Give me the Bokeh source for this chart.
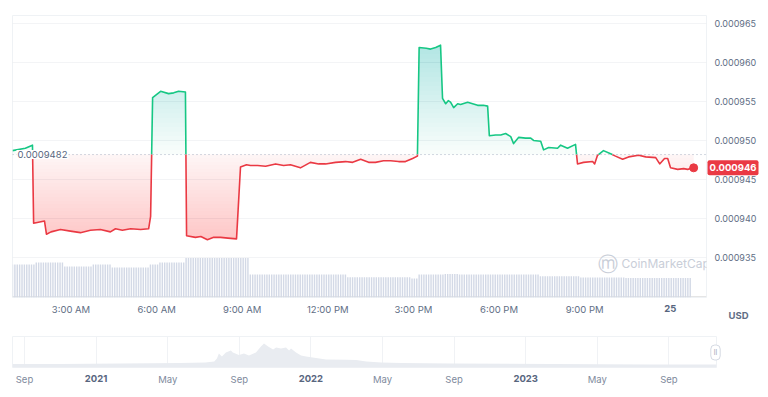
from bokeh.plotting import figure
from bokeh.models import (Range1d, FixedTicker, PrintfTickFormatter, Label, Span, LinearAxis, Grid)
from bokeh.layouts import column, row
from bokeh.embed import file_html
from bokeh.resources import INLINE

# ---------------- data ----------------
# hours since midnight of the 24th
hours = [0.95, 1.40, 1.65, 1.69, 2.07, 2.14, 2.30, 2.63, 2.98, 3.33, 3.68, 4.03, 4.38, 4.56, 4.80,
         5.09, 5.44, 5.72, 5.79, 5.86, 6.14, 6.42, 6.60, 6.77, 7.01, 7.05, 7.36, 7.55, 7.78, 8.00,
         8.24, 8.50, 8.80, 8.94, 9.15, 9.29, 9.54, 9.82, 10.17, 10.45, 10.69, 11.04, 11.39, 11.68,
         11.92, 12.27, 12.62, 12.87, 13.15, 13.43, 13.67, 13.95, 14.20, 14.48, 14.72, 14.97, 15.14,
         15.20, 15.45, 15.60, 15.78, 15.95, 16.02, 16.13, 16.22, 16.30, 16.41, 16.55, 16.65, 16.90,
         17.25, 17.45, 17.60, 17.66, 17.88, 18.06, 18.23, 18.41, 18.51, 18.69, 18.93, 19.11, 19.21,
         19.46, 19.56, 19.74, 20.05, 20.16, 20.40, 20.68, 20.75, 20.96, 21.28, 21.35, 21.45, 21.66,
         21.91, 22.08, 22.33, 22.54, 22.89, 23.14, 23.49, 23.63, 23.80, 23.91, 24.01, 24.26, 24.47,
         24.61, 24.82]
prices = [0.0009487, 0.0009490, 0.0009494, 0.0009394, 0.0009397, 0.0009380, 0.0009383, 0.0009386,
          0.0009384, 0.0009382, 0.0009385, 0.0009386, 0.0009383, 0.0009387, 0.0009385, 0.0009387,
          0.0009386, 0.0009387, 0.0009403, 0.0009555, 0.0009563, 0.0009560, 0.0009561, 0.0009563,
          0.0009562, 0.0009378, 0.0009376, 0.0009377, 0.0009373, 0.0009376, 0.0009376, 0.0009375,
          0.0009374, 0.0009466, 0.0009469, 0.0009468, 0.0009468, 0.0009467, 0.0009470, 0.0009468,
          0.0009469, 0.0009465, 0.0009472, 0.0009470, 0.0009470, 0.0009472, 0.0009473, 0.0009472,
          0.0009476, 0.0009472, 0.0009472, 0.0009474, 0.0009474, 0.0009473, 0.0009473, 0.0009477,
          0.0009480, 0.0009619, 0.0009618, 0.0009617, 0.0009619, 0.0009622, 0.0009554, 0.0009547,
          0.0009551, 0.0009549, 0.0009542, 0.0009547, 0.0009546, 0.0009549, 0.0009545, 0.0009545,
          0.0009544, 0.0009506, 0.0009507, 0.0009507, 0.0009509, 0.0009505, 0.0009496, 0.0009504,
          0.0009503, 0.0009503, 0.0009500, 0.0009499, 0.0009488, 0.0009491, 0.0009490, 0.0009494,
          0.0009490, 0.0009495, 0.0009470, 0.0009472, 0.0009473, 0.0009470, 0.0009481, 0.0009487,
          0.0009483, 0.0009480, 0.0009476, 0.0009479, 0.0009481, 0.0009479, 0.0009478, 0.0009470,
          0.0009477, 0.0009477, 0.0009465, 0.0009463, 0.0009464, 0.0009463, 0.0009465]
base_price = 0.0009482
base_label = "0.0009482"
last_label = "0.000946"
currency = "USD"

# volume: 5-minute bars, constant levels
vol_levels = [33, 35, 31, 33, 30, 33, 35, 39.5, 23, 20.3, 19, 23, 23.5, 23, 21.3, 20, 19.5]
vol_counts = [10, 12, 12, 8, 16, 4, 11, 27, 41, 27, 3, 11, 6, 34, 17, 19, 28]

time_ticks = [3, 6, 9, 12, 15, 18, 21, 24]
time_labels = ["3:00 AM", "6:00 AM", "9:00 AM", "12:00 PM", "3:00 PM", "6:00 PM", "9:00 PM", "25"]
price_ticks = [0.000935, 0.000940, 0.000945, 0.000950, 0.000955, 0.000960, 0.000965]

# navigator: months since Sep 2020
nav_months = [-0.67, 2.0, 5.4, 8.7, 10.1, 10.6, 10.75, 10.86, 11.03, 11.25, 11.53, 11.64, 11.98,
              12.26, 12.54, 12.93, 13.21, 13.38, 13.61, 13.89, 14.06, 14.33, 14.61, 14.78, 14.89,
              15.17, 15.45, 15.73, 16.29, 16.85, 17.97, 18.53, 19.09, 19.93, 21.05, 23.85, 29.45,
              35.05, 38.66]
nav_values = [3.5, 3.5, 4, 4.5, 5, 6, 9, 14, 11, 15, 17, 15, 12.5, 14, 12, 15, 21, 24, 21, 18, 20,
              19, 20, 17, 19, 15, 12, 11, 9.5, 8, 7.7, 7.5, 6, 5, 4.5, 4, 3.5, 3, 3]
nav_ticks = [0, 4, 8, 12, 16, 20, 24, 28, 32, 36]
nav_labels = ["Sep", "2021", "May", "Sep", "2022", "May", "Sep", "2023", "May", "Sep"]

# ---------------- style ----------------
GREEN = "#16c784"
RED = "#ea3943"
FONT = "Inter"
GRAY = "#616e85"
DARK = "#58667e"
FS = "9.5px"


def plain_axis(ax, fs=FS, color=GRAY, bold=False, standoff=6):
    ax.axis_line_color = None
    ax.major_tick_line_color = None
    ax.minor_tick_line_color = None
    ax.major_label_standoff = standoff
    ax.major_label_text_font = FONT
    ax.major_label_text_font_size = fs
    ax.major_label_text_color = color
    if bold:
        ax.major_label_text_font_style = "bold"


Y_LO, Y_HI = 0.0009299, 0.0009660
p = figure(width=760, height=333, x_range=Range1d(0.95, 25.27), y_range=Range1d(Y_LO, Y_HI),
           output_backend="svg", toolbar_location=None, y_axis_location=None,
           min_border_left=12, min_border_right=54, min_border_top=15, min_border_bottom=36)
p.background_fill_color = "white"
p.border_fill_color = "white"
p.outline_line_color = "#eff2f5"
p.extra_y_ranges = {"vol": Range1d(0, 282)}
p.add_layout(Grid(dimension=1, ticker=FixedTicker(ticks=price_ticks), grid_line_color="#f3f4f6"))

# volume bars
vol = []
for lvl, cnt in zip(vol_levels, vol_counts):
    vol += [lvl] * cnt
bar_x = [hours[0] + i / 12 for i in range(len(vol))]
p.vbar(x=bar_x, top=vol, bottom=0, width=0.05, y_range_name="vol",
       fill_color="#d3d9e6", line_color=None)

# gradient fills built from stacked translucent areas
N = 24
g_depth = max(prices) - base_price
r_depth = base_price - min(prices)
for k in range(N):
    lvl = base_price + g_depth * k / N
    p.varea(x=hours, y1=[lvl] * len(hours), y2=[max(v, lvl) for v in prices],
            fill_color=GREEN, fill_alpha=0.03 if k == 0 else 0.0115)
    lvl = base_price - r_depth * k / N
    p.varea(x=hours, y1=[lvl] * len(hours), y2=[min(v, lvl) for v in prices],
            fill_color=RED, fill_alpha=0.05 if k == 0 else 0.0105)

p.add_layout(Span(location=base_price, dimension="width", line_color="#a7b1c2",
                  line_dash="1 3", line_width=1))

# price line split into green (above base) and red (below base)
xs_g, ys_g, xs_r, ys_r = [], [], [], []
cur_x, cur_y = [hours[0]], [prices[0]]
cur_up = prices[0] >= base_price


def flush(cx, cy, up):
    if up:
        xs_g.append(cx); ys_g.append(cy)
    else:
        xs_r.append(cx); ys_r.append(cy)


for i in range(1, len(hours)):
    up = prices[i] >= base_price
    if up != cur_up:
        t = (base_price - prices[i - 1]) / (prices[i] - prices[i - 1])
        xc = hours[i - 1] + t * (hours[i] - hours[i - 1])
        cur_x.append(xc); cur_y.append(base_price)
        flush(cur_x, cur_y, cur_up)
        cur_x, cur_y, cur_up = [xc], [base_price], up
    cur_x.append(hours[i]); cur_y.append(prices[i])
flush(cur_x, cur_y, cur_up)

p.multi_line(xs=xs_g, ys=ys_g, line_color=GREEN, line_width=1.6, line_join="round")
p.multi_line(xs=xs_r, ys=ys_r, line_color=RED, line_width=1.6, line_join="round")
p.scatter(x=hours[-1:], y=prices[-1:], size=8, fill_color=RED, line_color=RED)

# right side: last-price tag first, then the price axis pulled back over it
p.add_layout(Label(x=1, y=prices[-1], x_units="screen", y_units="data", text=last_label,
                   text_align="left", text_baseline="middle", text_font=FONT,
                   text_font_size=FS, text_font_style="bold", text_color="white",
                   background_fill_color=RED, padding=(2, 4), border_radius=2), "right")
yax = LinearAxis(ticker=FixedTicker(ticks=price_ticks), formatter=PrintfTickFormatter(format="%.6f"))
plain_axis(yax, fs="9px", standoff=-49)
p.add_layout(yax, "right")

# x axis, and a second axis pulled back onto the same row for the bold day label
p.xgrid.visible = False
p.xaxis.ticker = FixedTicker(ticks=time_ticks)
p.xaxis.major_label_overrides = {t: ("" if t == 24 else l) for t, l in zip(time_ticks, time_labels)}
plain_axis(p.xaxis[0], standoff=0)
xax2 = LinearAxis(ticker=FixedTicker(ticks=time_ticks[-1:]),
                  major_label_overrides={time_ticks[-1]: time_labels[-1]})
plain_axis(xax2, color=DARK, bold=True, standoff=-19)
p.add_layout(xax2, "below")
# currency label below the price axis
px_per_price = (Y_HI - Y_LO) / 282
p.add_layout(Label(x=716, y=Y_LO - 18 * px_per_price, x_units="screen", y_units="data",
                   text=currency, text_align="left", text_baseline="middle", text_font=FONT,
                   text_font_size=FS, text_font_style="bold", text_color=GRAY, padding=0),
             "below")

# base price label
p.add_layout(Label(x=4, y=base_price, x_units="screen", y_units="data", text=base_label,
                   text_align="left", text_baseline="middle", text_font=FONT,
                   text_font_size=FS, text_color=DARK, background_fill_color="white",
                   padding=1))
# watermark
p.add_layout(Label(x=595, y=34, x_units="screen", y_units="screen", text="ⓜ",
                   text_align="center", text_baseline="middle", text_font="DejaVu Sans",
                   text_font_size="20px", text_color="#c9ced8"))
p.add_layout(Label(x=609, y=34, x_units="screen", y_units="screen", text="CoinMarketCap",
                   text_align="left", text_baseline="middle", text_font=FONT,
                   text_font_size="12px", text_color="#c9ced8"))

# ---------------- navigator ----------------
n = figure(width=760, height=56, x_range=Range1d(-0.67, 38.66), y_range=Range1d(0, 31),
           output_backend="svg", toolbar_location=None, y_axis_location=None,
           min_border_left=12, min_border_right=44, min_border_top=3, min_border_bottom=22)
n.outline_line_color = "#eff2f5"
n.varea(x=nav_months, y1=[0] * len(nav_months), y2=nav_values, fill_color="#e9ecf1")
n.ygrid.visible = False
n.xgrid.ticker = FixedTicker(ticks=nav_ticks)
n.xgrid.grid_line_color = "#f0f2f5"
n.xaxis.ticker = FixedTicker(ticks=nav_ticks)
n.xaxis.major_label_overrides = {t: ("" if l.isdigit() else l) for t, l in zip(nav_ticks, nav_labels)}
plain_axis(n.xaxis[0], color="#808a9d", standoff=0)
year_ticks = [t for t, l in zip(nav_ticks, nav_labels) if l.isdigit()]
nax2 = LinearAxis(ticker=FixedTicker(ticks=year_ticks),
                  major_label_overrides={t: l for t, l in zip(nav_ticks, nav_labels) if l.isdigit()})
plain_axis(nax2, color=DARK, bold=True, standoff=-19)
n.add_layout(nax2, "below")

n.add_layout(Label(x=-1, y=15, x_units="screen", y_units="screen", text="ll",
                   text_align="center", text_baseline="middle", text_font=FONT,
                   text_font_size="7px", text_color="#a0a8b8", background_fill_color="white",
                   border_line_color="#d5dae3", padding=3, border_radius=4), "right")

layout = column(p, row(n), spacing=0)
open("out.html", "w").write(file_html(layout, INLINE))
